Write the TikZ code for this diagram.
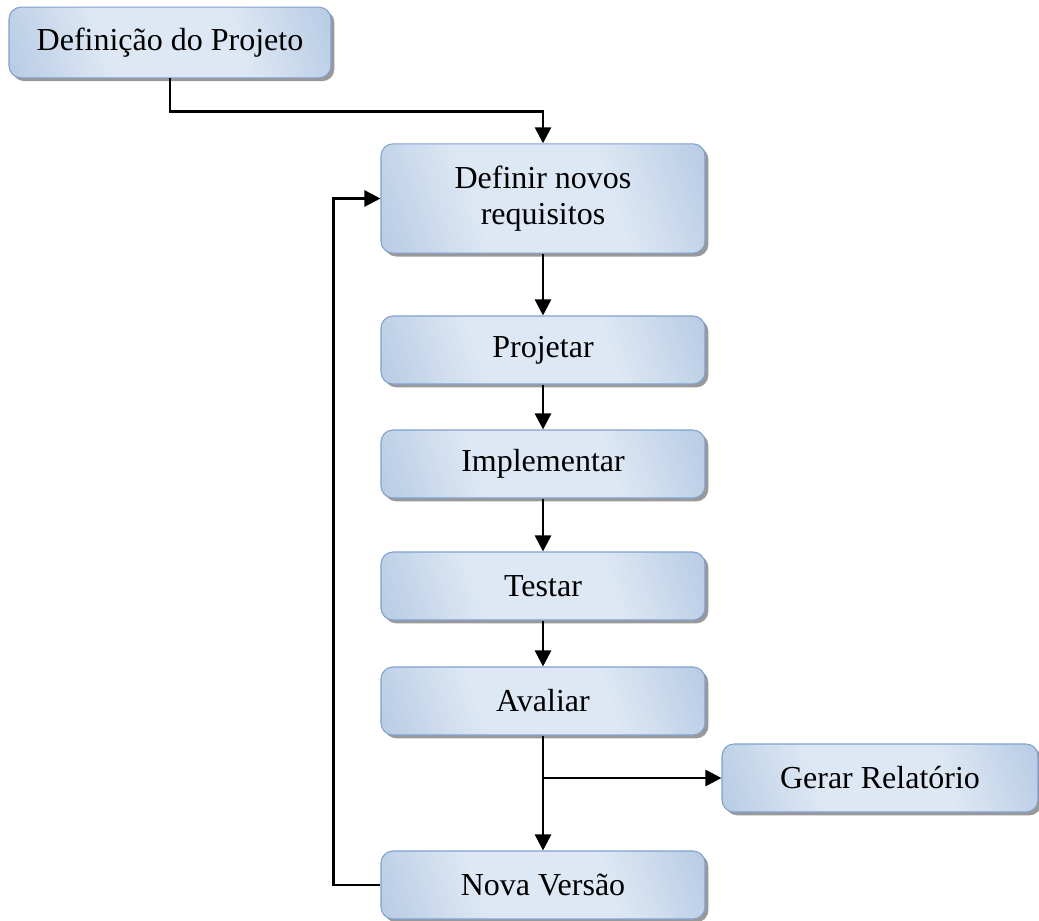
\documentclass[tikz,border=0pt]{standalone}
\usepackage{fontspec}
\setmainfont{Liberation Serif}
\usetikzlibrary{%
  arrows.meta,shadows}
\definecolor{boxdark}{RGB}{146,176,214}
\definecolor{boxlight}{RGB}{222,232,244}
\definecolor{boxedge}{RGB}{128,160,206}
\pgfdeclarehorizontalshading{boxshade}{100bp}{%
  color(0bp)=(boxdark); color(38bp)=(boxlight);
  color(62bp)=(boxlight); color(100bp)=(boxdark)}
\tikzset {>={Triangle[length=12pt,width=12pt]}}
\tikzset{
  stepbox/.style={draw=boxedge, line width=.8pt, rounded corners=9pt,
    shading=boxshade, shading angle=18,
    drop shadow={shadow xshift=2.5pt, shadow yshift=-2.5pt, fill=black!40, opacity=1},
    minimum width=243pt, minimum height=51pt, inner sep=0pt, align=center,
    font=\fontsize{24}{27}\selectfont},
  link/.style={->, line width=2pt}
}

\begin{document}
\begin{tikzpicture}[x=.75pt,y=-.75pt]
\useasboundingbox (0,0) rectangle (1039,921);
\node[stepbox, minimum width=241.5pt, minimum height=53pt] (defproj) at (170,42.5) {Definição do Projeto};
\node[stepbox, minimum height=82pt] (req) at (543,198.5) {Definir novos\\requisitos};
\node[stepbox] (proj) at (543,350) {Projetar};
\node[stepbox] (impl) at (543,464) {Implementar};
\node[stepbox] (test) at (543,586) {Testar};
\node[stepbox] (aval) at (543,701) {Avaliar};
\node[stepbox, minimum width=237pt] (rel) at (880,778) {Gerar Relatório};
\node[stepbox] (nova) at (543,885) {Nova Versão};
% connectors
\draw[link] (defproj.south) -- ++(0,33) -| (req.north);
\draw[link] (req) -- (proj);
\draw[link] (proj) -- (impl);
\draw[link] (impl) -- (test);
\draw[link] (test) -- (aval);
\draw[link] (aval) -- (nova);
\draw[link] (aval.south |- rel.west) -- (rel.west);
\draw[link] (nova.west) -- ++(-47,0) |- (req.west);
\end{tikzpicture}
\end{document}
